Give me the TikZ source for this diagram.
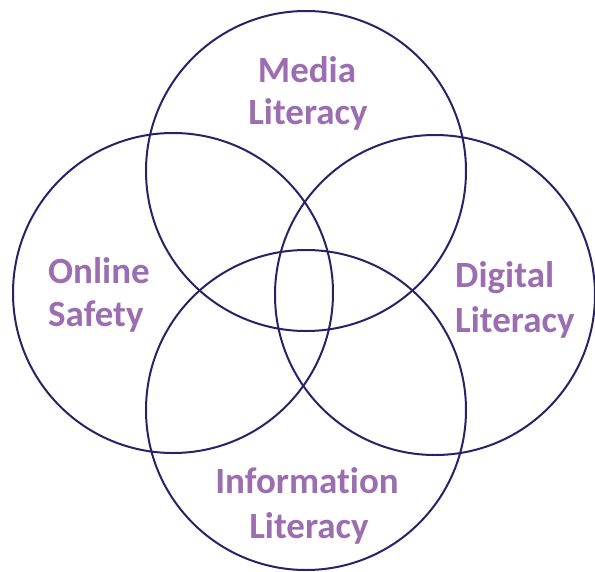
\documentclass[tikz,border=0pt]{standalone}
\usepackage{fontspec}
\setmainfont{Carlito}[Ligatures={NoCommon,NoContextual}]
\definecolor{ringcol}{HTML}{2A2166}
\definecolor{labelcol}{HTML}{9C6DB0}
\begin{document}
\begin{tikzpicture}[x=1pt,y=-1pt,
  ring/.style={circle, draw=ringcol, line width=2pt, minimum size=320pt, inner sep=0pt},
  lbl/.style={text=labelcol, font=\fontsize{37}{45}\selectfont\bfseries, inner sep=0pt}]
\useasboundingbox (0,0) rectangle (595,571);
\node[ring] (top) at (306,171) {};
\node[ring] (left) at (173,293) {};
\node[ring] (right) at (435,295) {};
\node[ring] (bottom) at (306,410) {};
\node[lbl, anchor=base] (mediaA) at (307,82) {Media};
\node[lbl, anchor=base] (mediaB) at (308,124) {Literacy};
\node[lbl, anchor=base west] (onlineA) at (48,283) {Online};
\node[lbl, anchor=base west] (onlineB) at (48,326) {Safety};
\node[lbl, anchor=base west] (digitalA) at (455,287) {Digital};
\node[lbl, anchor=base west] (digitalB) at (455,332) {Literacy};
\node[lbl, anchor=base] (infoA) at (307,493) {Information};
\node[lbl, anchor=base] (infoB) at (309,538) {Literacy};
\end{tikzpicture}
\end{document}
